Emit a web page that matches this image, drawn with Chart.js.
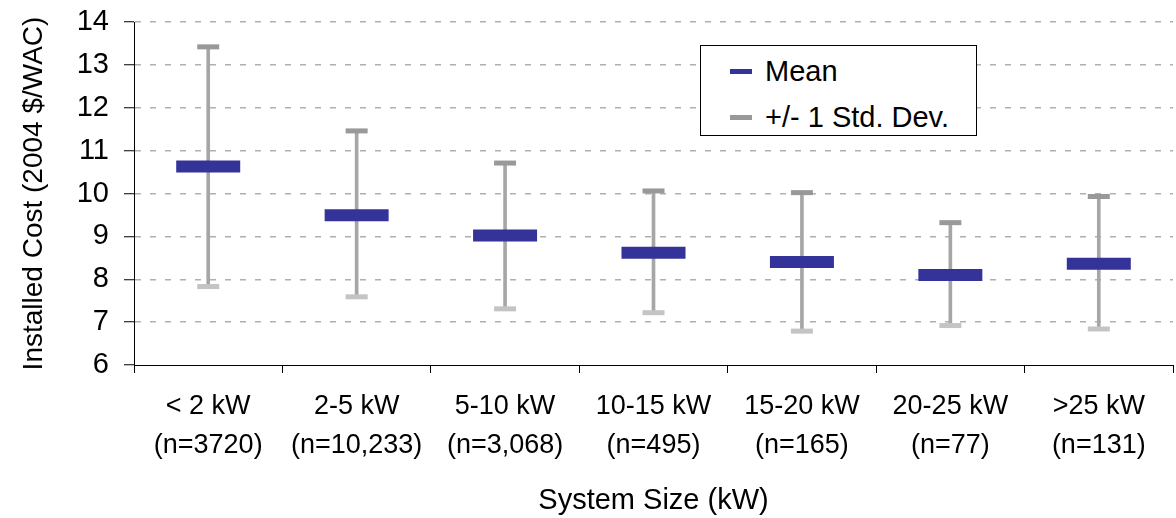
<!DOCTYPE html>
<html><head><meta charset="utf-8">
<script src="https://cdn.jsdelivr.net/npm/chart.js@4.4.0/dist/chart.umd.min.js"></script>
<style>
html,body{margin:0;padding:0;background:#fff;}
#wrap{position:relative;width:1176px;height:518px;}
#legend{position:absolute;left:700px;top:45px;width:277px;height:91px;border:1px solid #000;box-sizing:border-box;background:#fff;font-family:"Liberation Sans",Arial,sans-serif;font-size:29px;color:#000;}
.item{position:absolute;left:29px;height:34px;display:flex;align-items:center;white-space:nowrap;}
.sw{display:inline-block;width:22px;height:5px;margin-right:13px;}
</style></head><body>
<div id="wrap"><canvas id="c" width="1176" height="518"></canvas>
<div id="legend"><div class="item" style="top:8px"><span class="sw" style="background:#333399"></span>Mean</div><div class="item" style="top:54px"><span class="sw" style="background:#999999"></span>+/- 1 Std. Dev.</div></div></div>
<script>
const sizeLabels = ["< 2 kW","2-5 kW","5-10 kW","10-15 kW","15-20 kW","20-25 kW",">25 kW"];
const sampleCounts = ["(n=3720)","(n=10,233)","(n=3,068)","(n=495)","(n=165)","(n=77)","(n=131)"];
const meanCost = [10.63, 9.49, 9.02, 8.62, 8.40, 8.10, 8.36];
const upperStd = [13.42, 11.46, 10.71, 10.06, 10.02, 9.32, 9.93];
const lowerStd = [7.83, 7.59, 7.31, 7.22, 6.79, 6.92, 6.84];
const yMin = 6, yMax = 14, yStep = 1;

const FONT = '"Liberation Sans", Arial, sans-serif';
Chart.defaults.font.family = FONT;
Chart.defaults.color = '#000';

const labels = sizeLabels.map((s, i) => [s, sampleCounts[i]]);

new Chart(document.getElementById('c'), {
  type: 'bar',
  data: {
    labels: labels,
    datasets: [
      {
        type: 'line', label: 'Mean', data: meanCost, order: 0,
        showLine: false, pointStyle: 'line', pointRadius: 32, pointHoverRadius: 32,
        pointBorderWidth: 12, pointHoverBorderWidth: 12,
        borderColor: '#333399', pointBorderColor: '#333399', clip: false
      },
      {
        type: 'line', label: 'Upper', data: upperStd, order: 1,
        showLine: false, pointStyle: 'line', pointRadius: 11, pointHoverRadius: 11,
        pointBorderWidth: 5, pointHoverBorderWidth: 5,
        borderColor: '#999999', pointBorderColor: '#999999', clip: false
      },
      {
        type: 'line', label: 'Lower', data: lowerStd, order: 1,
        showLine: false, pointStyle: 'line', pointRadius: 11, pointHoverRadius: 11,
        pointBorderWidth: 5, pointHoverBorderWidth: 5,
        borderColor: '#C4C4C4', pointBorderColor: '#C4C4C4', clip: false
      },
      {
        type: 'bar', label: '+/- 1 Std. Dev.', order: 3,
        data: lowerStd.map((l, i) => [l, upperStd[i]]),
        barThickness: 3, backgroundColor: '#A6A6A6', borderWidth: 0
      }
    ]
  },
  options: {
    responsive: false,
    animation: false,
    layout: { autoPadding: false, padding: { top: 22, right: 3, left: 0, bottom: 0 } },
    plugins: { legend: { display: false }, tooltip: { enabled: false } },
    scales: {
      x: {
        offset: true,
        grid: { offset: true, drawOnChartArea: false, drawTicks: true, tickLength: 8, tickColor: '#000', tickWidth: 1 },
        border: { display: true, color: '#000', width: 1 },
        ticks: { font: { size: 27, lineHeight: 1.45 }, padding: 14, maxRotation: 0, autoSkip: false },
        title: { display: true, text: 'System Size (kW)', font: { size: 29 }, padding: { top: 0, bottom: 0 } },
        afterFit: (s) => { s.height = 153; s.paddingLeft = 0; s.paddingRight = 0; }
      },
      y: {
        min: yMin, max: yMax,
        ticks: { stepSize: yStep, font: { size: 29 }, padding: 15 },
        grid: {
          color: (ctx) => (ctx.tick && ctx.tick.value === yMin) ? 'rgba(0,0,0,0)' : '#B0B0B0',
          lineWidth: 1.5, tickLength: 10, tickColor: '#000', tickWidth: 1, tickBorderDash: []
        },
        border: { display: true, color: '#000', width: 1, dash: [6, 9] },
        title: { display: true, text: 'Installed Cost (2004 $/WAC)', font: { size: 28 }, padding: { top: 17, bottom: 0 } },
        afterFit: (s) => { s.width = 134; s.paddingTop = 0; s.paddingBottom = 0; }
      }
    }
  }
});
</script>
</body></html>
